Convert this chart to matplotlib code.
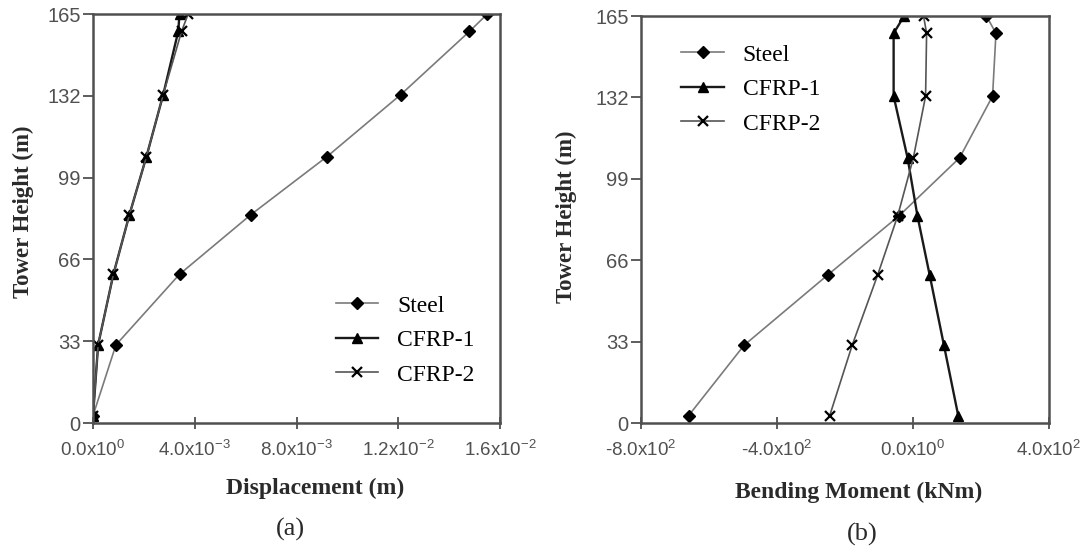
import matplotlib
matplotlib.use("Agg")
import matplotlib.pyplot as plt

plt.rcParams['mathtext.fontset'] = 'custom'
plt.rcParams['mathtext.rm'] = 'Liberation Sans'
plt.rcParams['mathtext.it'] = 'Liberation Sans:italic'
plt.rcParams['mathtext.bf'] = 'Liberation Sans:bold'

### data
heights = [3, 31.5, 60, 84, 107.5, 132.5, 158, 165]

disp_steel = [0.0, 0.0009, 0.0034, 0.0062, 0.0092, 0.0121, 0.0148, 0.0155]
disp_cfrp1 = [0.0, 0.0002, 0.0008, 0.00143, 0.0021, 0.00276, 0.00335, 0.0034]
disp_cfrp2 = [0.0, 0.0002, 0.0008, 0.00143, 0.0021, 0.00276, 0.00348, 0.00374]

moment_steel = [-660, -497, -251, -41, 137, 234, 244, 216]
moment_cfrp1 = [133, 91, 49, 13, -16, -57, -57, -26]
moment_cfrp2 = [-245, -179, -104, -45, 1, 37, 40, 31]

height_ticks = [0, 33, 66, 99, 132, 165]
disp_ticks = [0.0, 0.004, 0.008, 0.012, 0.016]
disp_ticklabels = [r'0.0x10$^{0}$', r'4.0x10$^{-3}$', r'8.0x10$^{-3}$',
                   r'1.2x10$^{-2}$', r'1.6x10$^{-2}$']
moment_ticks = [-800, -400, 0, 400]
moment_ticklabels = [r'-8.0x10$^{2}$', r'-4.0x10$^{2}$', r'0.0x10$^{0}$', r'4.0x10$^{2}$']

series_names = ['Steel', 'CFRP-1', 'CFRP-2']

serif = 'Liberation Serif'
sans = 'Liberation Sans'
gray = '#7a7a7a'
dark = '#1a1a1a'

fig = plt.figure(figsize=(10.83, 5.5), dpi=100)
ax1 = fig.add_axes([0.0859, 0.2309, 0.3758, 0.7436])
ax2 = fig.add_axes([0.5919, 0.2309, 0.3767, 0.7400])


def draw(ax, xs):
    steel, c1, c2 = xs
    ax.plot(steel, heights, color=gray, lw=1.2, marker='D', ms=6,
            mfc='black', mec='black', label=series_names[0])
    ax.plot(c1, heights, color=dark, lw=1.7, marker='^', ms=6.5,
            mfc='black', mec='black', label=series_names[1])
    ax.plot(c2, heights, color='#555555', lw=1.2, marker='x', ms=7,
            mew=1.6, mec='black', label=series_names[2])


def style(ax):
    ax.set_ylim(0, 165)
    ax.set_yticks(height_ticks)
    for sp in ax.spines.values():
        sp.set_color('#505050')
        sp.set_linewidth(1.8)
    ax.tick_params(width=1.3, color='#505050', labelcolor='#505050')
    ax.tick_params(axis='y', direction='out', length=7, pad=2, labelsize=14.5)
    ax.tick_params(axis='x', direction='inout', length=9, pad=8, labelsize=13.5)
    for t in ax.get_xticklabels() + ax.get_yticklabels():
        t.set_fontfamily(sans)


def legend(ax, anchor):
    ax.legend(loc='upper left', bbox_to_anchor=anchor, frameon=False,
              prop={'family': serif, 'size': 17}, handlelength=1.8,
              handletextpad=0.8, labelspacing=0.55, borderpad=0,
              borderaxespad=0)


draw(ax1, (disp_steel, disp_cfrp1, disp_cfrp2))
ax1.set_xlim(0, 0.016)
ax1.set_xticks(disp_ticks)
ax1.set_xticklabels(disp_ticklabels)
style(ax1)
ax1.set_xlabel('Displacement (m)', fontfamily=serif, fontweight='bold',
               fontsize=17, color='#2a2a2a', va='center')
ax1.xaxis.set_label_coords(0.545, -0.159)
ax1.set_ylabel('Tower Height (m)', fontfamily=serif, fontweight='bold',
               fontsize=16.5, color='#2a2a2a', va='center')
ax1.yaxis.set_label_coords(-0.172, 0.516)
legend(ax1, (0.596, 0.313))

draw(ax2, (moment_steel, moment_cfrp1, moment_cfrp2))
ax2.set_xlim(-800, 400)
ax2.set_xticks(moment_ticks)
ax2.set_xticklabels(moment_ticklabels)
style(ax2)
ax2.set_xlabel('Bending Moment (kNm)', fontfamily=serif, fontweight='bold',
               fontsize=17, color='#2a2a2a', va='center')
ax2.xaxis.set_label_coords(0.534, -0.170)
ax2.set_ylabel('Tower Height (m)', fontfamily=serif, fontweight='bold',
               fontsize=16.5, color='#2a2a2a', va='center')
ax2.yaxis.set_label_coords(-0.184, 0.506)
legend(ax2, (0.099, 0.931))

fig.text(290 / 1083, 1 - 529 / 550, '(a)', fontfamily=serif, fontsize=19,
         ha='center', va='center', color='#2a2a2a')
fig.text(862 / 1083, 1 - 534 / 550, '(b)', fontfamily=serif, fontsize=19,
         ha='center', va='center', color='#2a2a2a')

fig.savefig('out.png', dpi=100)
